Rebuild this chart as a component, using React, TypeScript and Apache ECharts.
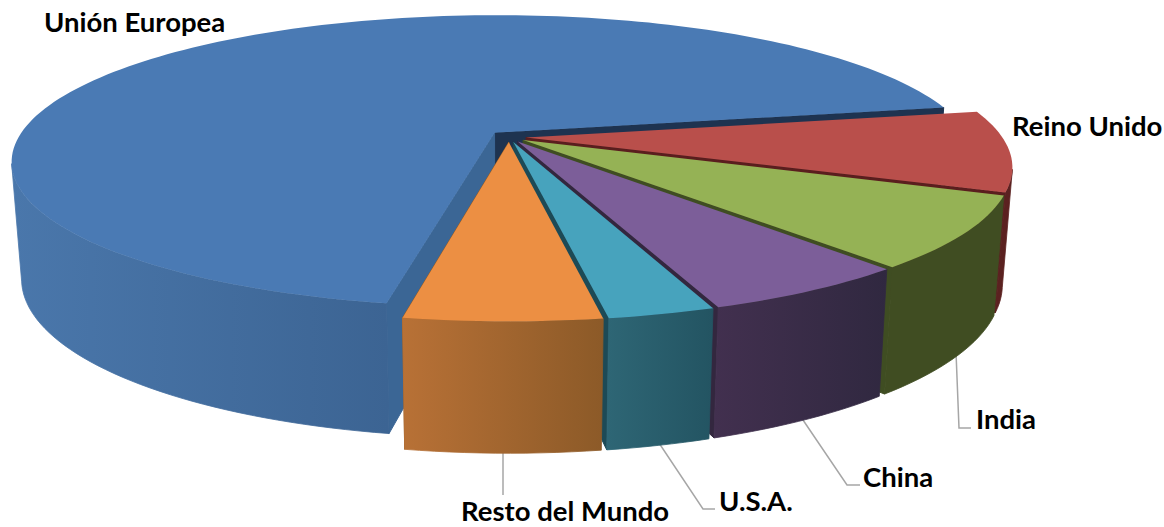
import React, { useEffect, useRef } from "react";
import * as echarts from "echarts";

const categories = ["Unión Europea", "Reino Unido", "India", "China", "U.S.A.", "Resto del Mundo"];
const shares = [69.15, 8.85, 7.8, 5.85, 2.95, 5.4];

const topColors = ["#4a7ab4", "#b94f4b", "#95b255", "#7c5e99", "#47a3bd", "#ec8f43"];
const sideLeft = ["#4a77ab", "#5b2120", "#404d22", "#42304f", "#2e6675", "#b87136"];
const sideRight = ["#3c6493", "#5b2120", "#404d22", "#302840", "#235462", "#8c5a28"];
const endWall = ["#1e3350", "#5a1e1e", "#3f4d22", "#33273f", "#1d4a56", "#8c5a28"];
const euStartWall = "#3b6695";
const explodes = [0.043, 0.036, 0.036, 0.036, 0.036, 0.036];

const labelX = [44, 1012, 976, 863, 719, 461];
const labelY = [21, 125, 418, 476, 500, 510];
const leaders = [
  null,
  null,
  [[956, 352], [959, 428], [971, 428]],
  [[803, 420], [847, 485], [860, 485]],
  [[659, 443], [703, 509], [715, 509]],
  [[503, 453], [503, 495]],
];

const START_ANGLE = 259.7;
const CX = 509, CY = 137, RX = 476, RY = 142, K = 0.195;
const BSCALE = 0.98, BCY = 252, BRY = 155;

const total = shares.reduce((a, b) => a + b, 0);
const rad = (d: number) => (d * Math.PI) / 180;

function topPt(X: number, Y: number) {
  const s = 1 / (1 + K * Y);
  return [CX + RX * X * s, CY - RY * Y * s];
}
function botPt(X: number, Y: number) {
  const s = 1 / (1 + K * Y);
  return [CX + BSCALE * RX * X * s, BCY - BRY * Y * s];
}

function sliceShapes(i: number) {
  let a0 = START_ANGLE;
  for (let j = 0; j < i; j++) a0 -= (shares[j] / total) * 360;
  const a1 = a0 - (shares[i] / total) * 360;
  const mid = rad((a0 + a1) / 2);
  const ax = explodes[i] * Math.cos(mid);
  const ay = explodes[i] * Math.sin(mid);
  const rim = (deg: number, f: (x: number, y: number) => number[]) =>
    f(ax + Math.cos(rad(deg)), ay + Math.sin(rad(deg)));
  const angles: number[] = [];
  const n = Math.max(8, Math.ceil((a0 - a1) / 1.5));
  for (let t = 0; t <= n; t++) angles.push(a0 + ((a1 - a0) * t) / n);

  const children: any[] = [];
  const poly = (points: number[][], fill: any, stroke: any = null, lineWidth = 0) =>
    children.push({ type: "polygon", shape: { points }, style: { fill, stroke, lineWidth } });

  const wall = (deg: number, fill: string) =>
    poly([topPt(ax, ay), rim(deg, topPt), rim(deg, botPt), botPt(ax, ay)], fill, fill, 1);

  wall(a1, endWall[i]);
  if (i === 0) wall(a0, euStartWall);

  const vis = angles.filter((d) => Math.sin(rad(d)) < -K);
  if (vis.length > 1) {
    const pts = [...vis.map((d) => rim(d, topPt)), ...[...vis].reverse().map((d) => rim(d, botPt))];
    const gradient = new echarts.graphic.LinearGradient(0, 0, 1, 0, [
      { offset: 0, color: sideLeft[i] },
      { offset: 1, color: sideRight[i] },
    ]);
    poly(pts, gradient, gradient, 0.8);
  }
  poly([topPt(ax, ay), ...angles.map((d) => rim(d, topPt))], topColors[i]);
  return { type: "group", children };
}

export default function App() {
  const ref = useRef<HTMLDivElement>(null);
  useEffect(() => {
    document.body.style.margin = "0";
    const chart = echarts.init(ref.current!, undefined, { renderer: "svg" });
    const graphic: any[] = [];
    leaders.forEach((pts) => {
      if (pts)
        graphic.push({
          type: "polyline",
          shape: { points: pts },
          style: { stroke: "#a6a6a6", lineWidth: 1.5, fill: null },
        });
    });
    categories.forEach((name, i) => {
      graphic.push({
        type: "text",
        x: labelX[i],
        y: labelY[i],
        style: {
          text: name,
          font: 'bold 27.5px Lato, "Noto Sans", sans-serif',
          fill: "#000000",
          textAlign: "left",
          textVerticalAlign: "middle",
        },
      });
    });
    chart.setOption({
      animation: false,
      backgroundColor: "#ffffff",
      graphic,
      series: [
        {
          type: "custom",
          coordinateSystem: "none",
          silent: true,
          data: shares.map((v, i) => ({ name: categories[i], value: v })),
          renderItem: (params: any) => sliceShapes(params.dataIndex),
        },
      ],
    });
    return () => chart.dispose();
  }, []);
  return <div ref={ref} style={{ position: "absolute", left: 0, top: 0, width: 1164, height: 527 }} />;
}
